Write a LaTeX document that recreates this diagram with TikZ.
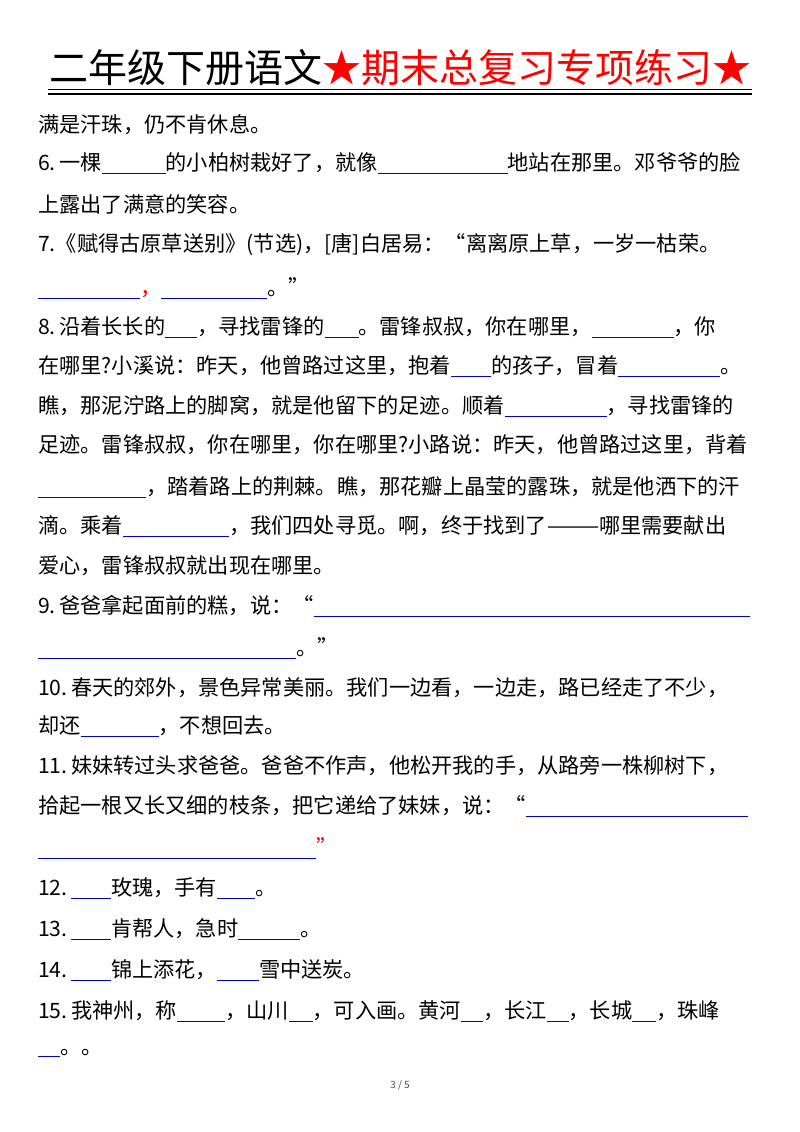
\documentclass[tikz,border=0pt]{standalone}
\usepackage{fontspec}
\setmainfont{Noto Sans CJK SC}
\newcommand{\bl}[1]{\textcolor{blue!85!black}{\rule[-3pt]{#1pt}{0.9pt}}}
\begin{document}
\begin{tikzpicture}[x=1pt,y=1pt,
  ln/.style={anchor=west,inner sep=0pt,font=\fontsize{21.2}{22}\selectfont}]
\useasboundingbox[fill=white] (0,0) rectangle (800,-1132);
\node[anchor=center,inner sep=0pt,font=\fontsize{39}{40}\selectfont] (title) at (400,-68)
  {二年级下册语文\textcolor{red}{★期末总复习专项练习★}};
\coordinate (la) at (48,-89); \coordinate (lb) at (752,-89);
\coordinate (lc) at (48,-94); \coordinate (ld) at (752,-94);
\draw[line width=1pt] (la) -- (lb);
\draw[line width=2.4pt] (lc) -- (ld);
\node[ln] (l1) at (38,-125) {满是汗珠，仍不肯休息。};
\node[ln] (l2) at (38,-163) {6.\,一棵\bl{64}的小柏树栽好了，就像\bl{130}地站在那里。邓爷爷的脸};
\node[ln] (l3) at (38,-204) {上露出了满意的笑容。};
\node[ln] (l4) at (38,-245) {7.《赋得古原草送别》(节选)，[唐]白居易：“离离原上草，一岁一枯荣。};
\node[ln] (l5) at (38,-288) {\bl{102}\textcolor{red}{，}\bl{106}。”};
\node[ln] (l6) at (38,-327) {8.\,沿着长长的\bl{32}，寻找雷锋的\bl{34}。雷锋叔叔，你在哪里，\bl{82}，你};
\node[ln] (l7) at (38,-366) {在哪里?小溪说：昨天，他曾路过这里，抱着\bl{40}的孩子，冒着\bl{102}。};
\node[ln] (l8) at (38,-406) {瞧，那泥泞路上的脚窝，就是他留下的足迹。顺着\bl{102}，寻找雷锋的};
\node[ln] (l9) at (38,-445) {足迹。雷锋叔叔，你在哪里，你在哪里?小路说：昨天，他曾路过这里，背着};
\node[ln] (l10) at (38,-487) {\bl{108}，踏着路上的荆棘。瞧，那花瓣上晶莹的露珠，就是他洒下的汗};
\node[ln] (l11) at (38,-526) {滴。乘着\bl{106}，我们四处寻觅。啊，终于找到了———哪里需要献出};
\node[ln] (l12) at (38,-566) {爱心，雷锋叔叔就出现在哪里。};
\node[ln] (l13) at (38,-606) {9.\,爸爸拿起面前的糕，说：“\bl{436}};
\node[ln] (l14) at (38,-648) {\bl{258}。”};
\node[ln] (l15) at (38,-688) {10.\,春天的郊外，景色异常美丽。我们一边看，一边走，路已经走了不少，};
\node[ln] (l16) at (38,-726) {却还\bl{78}，不想回去。};
\node[ln] (l17) at (38,-766) {11.\,妹妹转过头求爸爸。爸爸不作声，他松开我的手，从路旁一株柳树下，};
\node[ln] (l18) at (38,-806) {拾起一根又长又细的枝条，把它递给了妹妹，说：“\bl{222}};
\node[ln] (l19) at (38,-848) {\bl{278}\textcolor{red}{”}};
\node[ln] (l20) at (38,-888) {12.\,\bl{40}玫瑰，手有\bl{38}。};
\node[ln] (l21) at (38,-929) {13.\,\bl{40}肯帮人，急时\bl{62}。};
\node[ln] (l22) at (38,-970) {14.\,\bl{40}锦上添花，\bl{42}雪中送炭。};
\node[ln] (l23) at (38,-1011) {15.\,我神州，称\bl{48}，山川\bl{24}，可入画。黄河\bl{22}，长江\bl{22}，长城\bl{24}，珠峰};
\node[ln] (l24) at (38,-1053) {\bl{22}。。};
\node[inner sep=0pt,font=\fontsize{10}{11}\selectfont,text=black!70] (pg) at (400,-1085) {3 / 5};
\end{tikzpicture}
\end{document}
